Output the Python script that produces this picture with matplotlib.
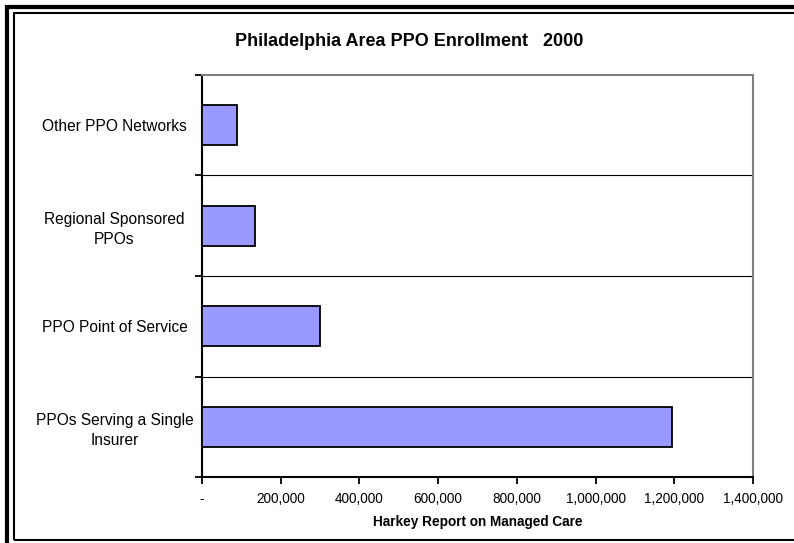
import matplotlib.pyplot as plt
import matplotlib.ticker as mticker
from matplotlib.patches import Rectangle

plt.rcParams['font.family'] = ['Liberation Sans', 'DejaVu Sans']

categories = ['PPOs Serving a Single\nInsurer', 'PPO Point of Service',
              'Regional Sponsored\nPPOs', 'Other PPO Networks']
enrollment = [1195000, 300000, 135000, 90000]
x_ticks = [0, 200000, 400000, 600000, 800000, 1000000, 1200000, 1400000]

fig = plt.figure(figsize=(7.94, 5.43), dpi=100)
ax = fig.add_axes([0.2544, 0.1215, 0.6940, 0.7404])

ypos = list(range(len(categories)))
ax.barh(ypos, enrollment, height=0.4, color='#9999FF', edgecolor='black', linewidth=1.3, zorder=3)

ax.set_xlim(0, 1400000)
ax.set_ylim(-0.5, 3.5)
ax.set_xticks(x_ticks)
ax.xaxis.set_major_formatter(mticker.FuncFormatter(lambda v, p: '-' if v == 0 else f'{int(v):,}'))
ax.set_yticks(ypos)
ax.set_yticklabels(categories, ha='center', multialignment='center', linespacing=1.4)
ax.tick_params(axis='y', which='major', length=0, pad=63, labelsize=11.2)
ax.set_yticks([-0.5, 0.5, 1.5, 2.5, 3.5], minor=True)
ax.tick_params(axis='y', which='minor', length=5, width=1.3, direction='out')
ax.tick_params(axis='x', length=5, width=1.3, direction='out', labelsize=9.8, pad=6)

for b in [0.5, 1.5, 2.5]:
    ax.axhline(b, color='black', linewidth=0.8, zorder=1)

ax.spines['left'].set_linewidth(1.5)
ax.spines['bottom'].set_linewidth(1.5)
ax.spines['top'].set_color('#808080')
ax.spines['right'].set_color('#808080')
ax.spines['top'].set_linewidth(1.5)
ax.spines['right'].set_linewidth(1.5)

ax.set_xlabel('Harkey Report on Managed Care', fontsize=9.8, fontweight='bold', labelpad=6)
fig.text(0.515, 0.924, 'Philadelphia Area PPO Enrollment   2000', ha='center', va='center',
         fontsize=13, fontweight='bold')

# double frame around the chart
W, H = 794, 543
fig.add_artist(Rectangle((7 / W, -0.1), 1.2, 1 - 7 / H + 0.1, transform=fig.transFigure,
                         fill=False, edgecolor='black', linewidth=3.0))
fig.add_artist(Rectangle((13.5 / W, 1 - 540 / H), 1.2, (540 - 12.5) / H, transform=fig.transFigure,
                         fill=False, edgecolor='black', linewidth=1.5))

fig.savefig('out.png', dpi=100)
